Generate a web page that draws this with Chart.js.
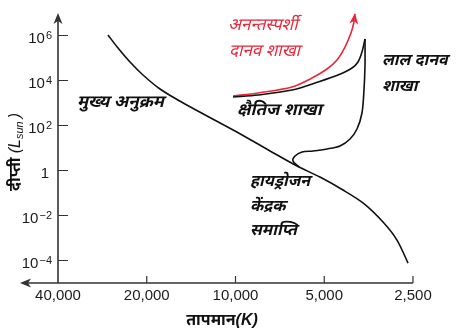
<!DOCTYPE html>
<html><head><meta charset="utf-8">
<script src="https://cdn.jsdelivr.net/npm/chart.js@4/dist/chart.umd.min.js"></script>
<style>html,body{margin:0;padding:0;background:#fff}#wrap{width:470px;height:333px;position:relative}</style>
</head><body><div id="wrap"><canvas id="c"></canvas></div>
<script>
// Main sequence (temperature K, luminosity L_sun)
const msTemp = [27070, 25033, 22792, 20597, 18035, 14837, 10040, 7638, 6186, 5169, 4319, 3694, 3160, 2833, 2599];
const msLum  = [1.05e6, 2.78e5, 6.64e4, 1.76e4, 4190, 903, 57, 7.4, 1.58, 0.51, 0.136, 0.036, 0.0051, 8.1e-4, 7.7e-5];
// Hydrogen core exhaustion -> red giant branch
const rgTemp = [6090, 6383, 6283, 5948, 5459, 4894, 4421, 4089, 3872, 3724, 3666, 3637, 3637];
const rgLum  = [1.43, 2.64, 4.41, 6.64, 7.36, 9.03, 12.3, 25.1, 69.9, 359, 3780, 48900, 6.99e5];
// Horizontal branch
const hbTemp = [10197, 8388, 6433, 5250, 4491, 4026, 3842, 3724, 3637];
const hbLum  = [1849, 2268, 3780, 8580, 17550, 35900, 66400, 1.85e5, 6.99e5];
// Asymptotic (supergiant) branch
const agTemp = [10197, 8388, 6433, 5502, 4894, 4526, 4252, 4058, 3964, 3936];
const agLum  = [2047, 2783, 5140, 12900, 32400, 81500, 3.08e5, 1.29e6, 3.98e6, 9.0e6];

const xTickVals = [40000, 20000, 10000, 5000, 2500];
const xTickLabels = ['40,000', '20,000', '10,000', '5,000', '2,500'];
const yTickVals = [1e6, 1e4, 1e2, 1, 1e-2, 1e-4];
const yTickBase = ['10', '10', '10', '1', '10', '10'];
const yTickSup  = ['6', '4', '2', '', '-2', '-4'];

const xTitle = 'तापमान';
const yTitle = 'दीप्ती';
const labels = [
  {t:'अनन्तस्पर्शी', x:228, y:27, red:true},
  {t:'दानव शाखा', x:229, y:53, red:true},
  {t:'मुख्य अनुक्रम', x:77, y:104, big:true},
  {t:'क्षैतिज शाखा', x:237, y:112, big:true},
  {t:'लाल दानव', x:382, y:62},
  {t:'शाखा', x:382, y:88},
  {t:'हायड्रोजन', x:250, y:183},
  {t:'केंद्रक', x:250, y:208},
  {t:'समाप्ति', x:250, y:232}
];

const pts = (xs, ys) => xs.map((v, i) => ({x: v, y: ys[i]}));
const RED = '#e8283c';
const AX = '#333';
const DEV = '"Noto Sans Devanagari","Lohit Devanagari","Mukta","FreeSans",sans-serif';

const deco = {
  id: 'deco',
  beforeDatasetsDraw(chart) {
    const ctx = chart.ctx, xs = chart.scales.x, ys = chart.scales.y;
    const x0 = xs.getPixelForValue(40000), yb = ys.getPixelForValue(1e-5);
    const xr = xs.getPixelForValue(2500), yt = ys.getPixelForValue(1e7);
    ctx.save();
    ctx.strokeStyle = AX; ctx.fillStyle = AX; ctx.lineWidth = 1.6;
    // axes
    ctx.beginPath();
    ctx.moveTo(x0, yb); ctx.lineTo(x0, yt + 4);
    ctx.moveTo(x0 - 36, yb); ctx.lineTo(xr, yb);
    ctx.stroke();
    // arrowheads
    ctx.beginPath();
    ctx.moveTo(x0, yt); ctx.lineTo(x0 - 4.5, yt + 11); ctx.lineTo(x0, yt + 8); ctx.lineTo(x0 + 4.5, yt + 11); ctx.closePath(); ctx.fill();
    const xa = x0 - 38;
    ctx.beginPath();
    ctx.moveTo(xa, yb); ctx.lineTo(xa + 11, yb - 4.5); ctx.lineTo(xa + 8, yb); ctx.lineTo(xa + 11, yb + 4.5); ctx.closePath(); ctx.fill();
    // ticks
    ctx.lineWidth = 1.2;
    ctx.beginPath();
    yTickVals.forEach(v => { const y = ys.getPixelForValue(v); ctx.moveTo(x0, y); ctx.lineTo(x0 + 10, y); });
    xTickVals.forEach(v => { const x = xs.getPixelForValue(v); if (v !== 40000) { ctx.moveTo(x, yb); ctx.lineTo(x, yb - 7); } });
    ctx.stroke();
    // x tick labels
    ctx.fillStyle = '#1a1a1a';
    ctx.font = '15px "Liberation Sans", Arial, sans-serif';
    ctx.textAlign = 'center'; ctx.textBaseline = 'alphabetic';
    xTickVals.forEach((v, i) => ctx.fillText(xTickLabels[i], xs.getPixelForValue(v), yb + 17));
    // y tick labels
    yTickVals.forEach((v, i) => {
      const y = ys.getPixelForValue(v);
      ctx.font = '15px "Liberation Sans", Arial, sans-serif';
      const wb = ctx.measureText(yTickBase[i]).width;
      ctx.font = '11px "Liberation Sans", Arial, sans-serif';
      const sup = yTickSup[i].replace('-', '\u2212');
      const ws = sup ? ctx.measureText(sup).width + 1 : 0;
      const right = sup ? x0 - 6 : x0 - 9;
      ctx.textAlign = 'left';
      ctx.font = '15px "Liberation Sans", Arial, sans-serif';
      ctx.fillText(yTickBase[i], right - ws - wb, y + 7);
      if (sup) { ctx.font = '11px "Liberation Sans", Arial, sans-serif'; ctx.fillText(sup, right - ws + 1, y + 3); }
    });
    // x title
    ctx.fillStyle = '#111';
    ctx.font = 'bold 16px ' + DEV;
    ctx.textAlign = 'left';
    const tw = ctx.measureText(xTitle).width;
    ctx.font = 'italic bold 16px "Liberation Sans", sans-serif';
    const kw = ctx.measureText('(K)').width;
    const tx = 222 - (tw + kw) / 2;
    ctx.font = 'bold 16px ' + DEV;
    ctx.fillText(xTitle, tx, 325);
    ctx.font = 'italic bold 16px "Liberation Sans", sans-serif';
    ctx.fillText('(K)', tx + tw, 325);
    // y title (rotated)
    ctx.save();
    ctx.translate(20, 152);
    ctx.rotate(-Math.PI / 2);
    ctx.font = 'bold 16px ' + DEV;
    const w1 = ctx.measureText(yTitle + ' ').width;
    ctx.font = 'italic 16px "Liberation Sans", sans-serif';
    const w2 = ctx.measureText('(L').width;
    ctx.font = 'italic 11px "Liberation Sans", sans-serif';
    const w3 = ctx.measureText('sun').width;
    ctx.font = 'italic 16px "Liberation Sans", sans-serif';
    const w4 = ctx.measureText(')').width;
    let px = -(w1 + w2 + w3 + w4 + 3) / 2;
    ctx.font = 'bold 16px ' + DEV;
    ctx.fillText(yTitle + ' ', px, 0); px += w1;
    ctx.font = 'italic 16px "Liberation Sans", sans-serif';
    ctx.fillText('(L', px, 0); px += w2;
    ctx.font = 'italic 11px "Liberation Sans", sans-serif';
    ctx.fillText('sun', px, 3); px += w3 + 3;
    ctx.font = 'italic 16px "Liberation Sans", sans-serif';
    ctx.fillText(')', px, 0);
    ctx.restore();
    // labels
    ctx.textBaseline = 'middle'; ctx.textAlign = 'left';
    labels.forEach(l => {
      ctx.fillStyle = l.red ? RED : '#111';
      ctx.font = l.red ? 'italic 17px ' + DEV : 'italic bold ' + (l.big ? 17 : 16) + 'px ' + DEV;
      ctx.fillText(l.t, l.x, l.y);
    });
    ctx.restore();
  },
  afterDatasetsDraw(chart) {
    const meta = chart.getDatasetMeta(3);
    const n = meta.data.length;
    const p1 = meta.data[n - 1], p0 = meta.data[n - 2];
    const a = Math.atan2(p1.y - p0.y, p1.x - p0.x);
    const ctx = chart.ctx;
    ctx.save();
    ctx.translate(p1.x, p1.y); ctx.rotate(a);
    ctx.fillStyle = RED;
    ctx.beginPath();
    ctx.moveTo(1, 0); ctx.lineTo(-10, -4.5); ctx.lineTo(-7, 0); ctx.lineTo(-10, 4.5); ctx.closePath(); ctx.fill();
    ctx.restore();
  }
};

new Chart(document.getElementById('c'), {
  type: 'scatter',
  data: {
    datasets: [
      {data: pts(msTemp, msLum), borderColor: '#111'},
      {data: pts(rgTemp, rgLum), borderColor: '#111'},
      {data: pts(hbTemp, hbLum), borderColor: '#111'},
      {data: pts(agTemp, agLum), borderColor: RED}
    ].map(d => Object.assign(d, {showLine: true, pointRadius: 0, borderWidth: 1.6, tension: 0.3, fill: false, clip: false}))
  },
  options: {
    responsive: true, maintainAspectRatio: false, animation: false,
    layout: {padding: {left: 58, right: 57, top: 13, bottom: 50}},
    plugins: {legend: {display: false}, tooltip: {enabled: false}},
    scales: {
      x: {type: 'logarithmic', reverse: true, min: 2500, max: 40000, display: false},
      y: {type: 'logarithmic', min: 1e-5, max: 1e7, display: false}
    }
  },
  plugins: [deco]
});
</script>
</body></html>
